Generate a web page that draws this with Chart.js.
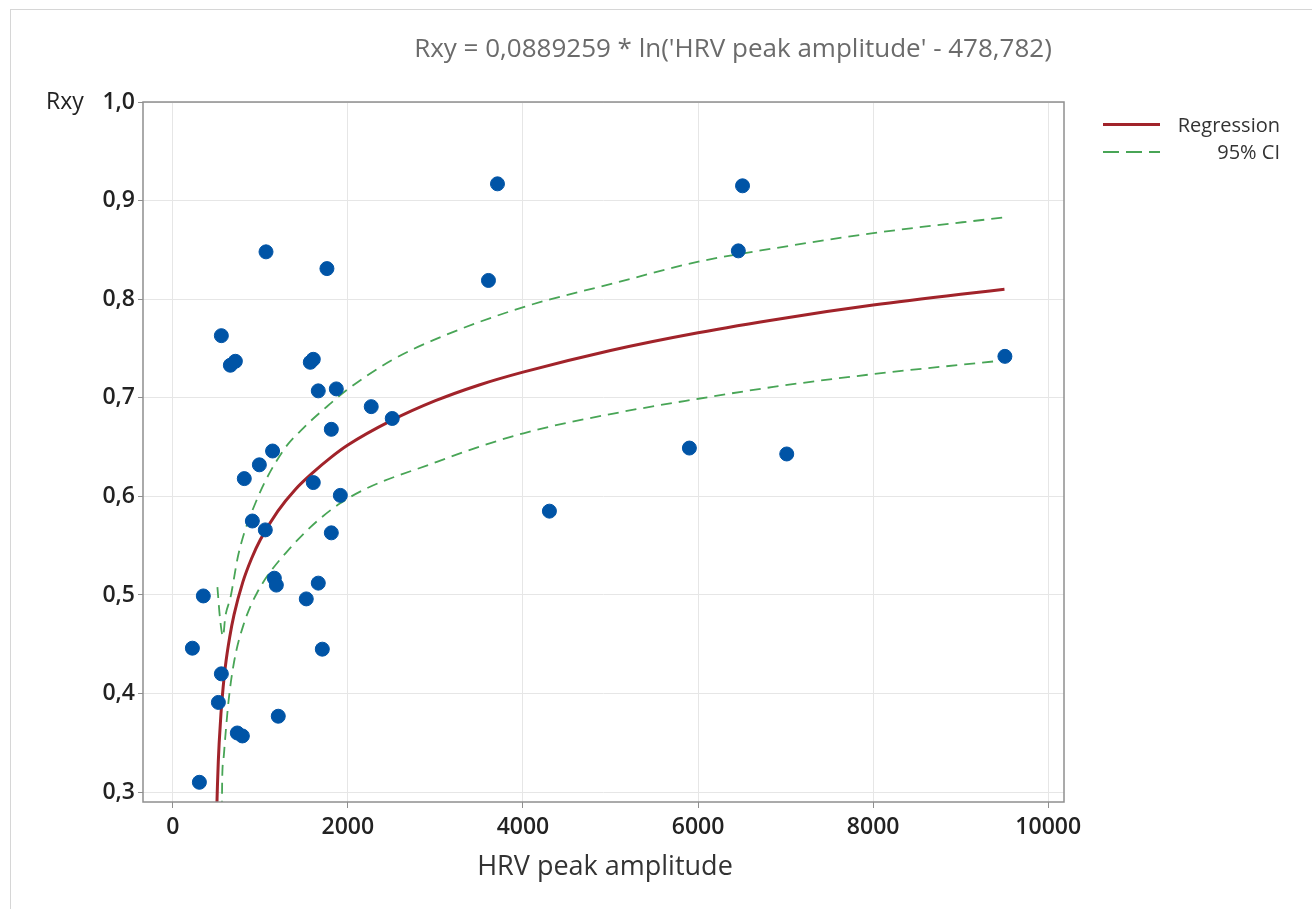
<!DOCTYPE html>
<html>
<head>
<meta charset="utf-8">
<script src="https://cdn.jsdelivr.net/npm/chart.js@4.4.1/dist/chart.umd.min.js"></script>
<style>
  html, body { margin: 0; padding: 0; background: #fff; overflow: hidden; }
  #wrap { position: relative; width: 1312px; height: 909px; }
</style>
</head>
<body>
<div id="wrap"><canvas id="rxyChart"></canvas></div>
<script>
// Observed points (HRV peak amplitude vs Rxy)
var hrvValues = [224, 349, 304, 521, 555, 555, 658, 715, 737, 795, 817, 909, 989, 1057, 1065,
  1140, 1160, 1183, 1205, 1525, 1571, 1605, 1605, 1662, 1662, 1708, 1761, 1811, 1811, 1868,
  1914, 2267, 2507, 3606, 3709, 4302, 5901, 6460, 6508, 7013, 9505];
var rxyValues = [0.446, 0.499, 0.310, 0.391, 0.420, 0.763, 0.733, 0.737, 0.360, 0.357, 0.618, 0.575, 0.632, 0.566, 0.848,
  0.646, 0.517, 0.510, 0.377, 0.496, 0.736, 0.739, 0.614, 0.707, 0.512, 0.445, 0.831, 0.668, 0.563, 0.709,
  0.601, 0.691, 0.679, 0.819, 0.917, 0.585, 0.649, 0.849, 0.915, 0.643, 0.742];

// Fitted curve
var fitX = [504, 510, 520, 530, 550, 575, 600, 650, 700, 800, 900, 1000, 1200, 1400, 1600, 1800,
  2000, 2500, 3000, 3500, 4000, 5000, 6000, 7000, 8000, 9000, 9500];
var fitY = [0.287, 0.306, 0.331, 0.350, 0.379, 0.406, 0.427, 0.457, 0.480, 0.513, 0.537, 0.556, 0.585, 0.607, 0.624, 0.639,
  0.652, 0.677, 0.697, 0.713, 0.726, 0.748, 0.766, 0.781, 0.794, 0.805, 0.810];

// 95% CI bands
var upperX = [510, 540, 574, 600, 658, 752, 962, 1266, 1500, 1799, 1990, 2500, 3017, 4006, 5033, 6004, 6898, 8001, 9500];
var upperY = [0.508, 0.476, 0.458, 0.478, 0.497, 0.542, 0.597, 0.647, 0.670, 0.694, 0.708, 0.738, 0.760, 0.792, 0.816, 0.838, 0.852, 0.867, 0.883];
var lowerX = [561, 565, 580, 600, 638, 700, 809, 962, 1305, 1913, 3017, 4006, 5033, 6004, 6860, 8001, 9500];
var lowerY = [0.280, 0.315, 0.334, 0.356, 0.393, 0.432, 0.470, 0.502, 0.544, 0.593, 0.635, 0.664, 0.684, 0.699, 0.711, 0.724, 0.738];

var xTicks = [0, 2000, 4000, 6000, 8000, 10000];

function toPoints(xs, ys) {
  return xs.map(function (x, i) { return {x: x, y: ys[i]}; });
}

var FONT = '"Open Sans", "Noto Sans", sans-serif';
var RED = '#a1232a';
var GREEN = '#48a556';
var BLUE = '#0054a6';

// titles, legend, plot frame
var decor = {
  id: 'decor',
  afterDraw: function (chart) {
    var ctx = chart.ctx;
    var a = chart.chartArea;
    ctx.save();

    // outer picture frame
    ctx.strokeStyle = '#d6d6d6';
    ctx.lineWidth = 1;
    ctx.strokeRect(10.5, 9.5, 1400, 1000);

    // plot frame
    ctx.strokeStyle = '#8f8f8f';
    ctx.lineWidth = 1.5;
    ctx.strokeRect(a.left, a.top, a.right - a.left, a.bottom - a.top);

    ctx.textBaseline = 'middle';
    ctx.fillStyle = '#6b6b6b';
    ctx.font = '26px ' + FONT;
    ctx.textAlign = 'center';
    ctx.fillText("Rxy = 0,0889259 * ln('HRV peak amplitude' - 478,782)", 733, 50);

    ctx.fillStyle = '#222';
    ctx.font = '23px ' + FONT;
    ctx.textAlign = 'left';
    ctx.fillText('Rxy', 46, 102);

    ctx.fillStyle = '#333';
    ctx.font = '27px ' + FONT;
    ctx.textAlign = 'center';
    ctx.fillText('HRV peak amplitude', 605, 867);

    // legend
    ctx.lineWidth = 3;
    ctx.strokeStyle = RED;
    ctx.beginPath();
    ctx.moveTo(1103, 124.5);
    ctx.lineTo(1160, 124.5);
    ctx.stroke();
    ctx.lineWidth = 1.8;
    ctx.strokeStyle = GREEN;
    ctx.setLineDash([16, 7]);
    ctx.beginPath();
    ctx.moveTo(1103, 152);
    ctx.lineTo(1160, 152);
    ctx.stroke();
    ctx.setLineDash([]);

    ctx.fillStyle = '#333';
    ctx.font = '20px ' + FONT;
    ctx.textAlign = 'right';
    ctx.fillText('Regression', 1280, 126);
    ctx.fillText('95% CI', 1280, 153);
    ctx.restore();
  }
};

var data = {
  datasets: [
    {
      label: 'Data',
      data: toPoints(hrvValues, rxyValues),
      backgroundColor: BLUE,
      borderColor: BLUE,
      pointRadius: 7,
      pointHoverRadius: 7,
      showLine: false
    },
    {
      label: 'Regression',
      type: 'line',
      data: toPoints(fitX, fitY),
      borderColor: RED,
      borderWidth: 3,
      pointRadius: 0,
      fill: false,
      cubicInterpolationMode: 'monotone',
      clip: 0
    },
    {
      label: '95% CI upper',
      type: 'line',
      data: toPoints(upperX, upperY),
      borderColor: GREEN,
      borderWidth: 1.8,
      borderDash: [11, 7],
      pointRadius: 0,
      fill: false,
      cubicInterpolationMode: 'monotone',
      clip: 0
    },
    {
      label: '95% CI lower',
      type: 'line',
      data: toPoints(lowerX, lowerY),
      borderColor: GREEN,
      borderWidth: 1.8,
      borderDash: [11, 7],
      pointRadius: 0,
      fill: false,
      cubicInterpolationMode: 'monotone',
      clip: 0
    }
  ]
};

var config = {
  type: 'scatter',
  data: data,
  options: {
    responsive: true,
    maintainAspectRatio: false,
    animation: false,
    layout: { padding: { top: 102, right: 248, bottom: 0, left: 0 } },
    plugins: {
      legend: { display: false },
      tooltip: { enabled: false }
    },
    scales: {
      x: {
        type: 'linear',
        min: -340,
        max: 10180,
        afterFit: function (s) { s.height = 107; },
        afterBuildTicks: function (s) {
          s.ticks = xTicks.map(function (v) { return {value: v}; });
        },
        border: { display: false },
        grid: { color: '#e6e6e6', lineWidth: 1, tickLength: 6, tickColor: '#8f8f8f' },
        ticks: {
          padding: 6,
          color: '#222',
          font: { family: FONT, size: 23, weight: '600' },
          callback: function (v) { return String(v); }
        }
      },
      y: {
        min: 0.29,
        max: 1.0,
        afterFit: function (s) { s.width = 143; },
        border: { display: false },
        grid: { color: '#e6e6e6', lineWidth: 1, tickLength: 5, tickColor: '#8f8f8f' },
        ticks: {
          stepSize: 0.1,
          includeBounds: false,
          padding: 3,
          color: '#222',
          font: { family: FONT, size: 23, weight: '600' },
          callback: function (v) { return v.toFixed(1).replace('.', ','); }
        }
      }
    }
  },
  plugins: [decor]
};

var ctx = document.getElementById('rxyChart').getContext('2d');
var rxyChart = new Chart(ctx, config);
</script>
</body>
</html>
